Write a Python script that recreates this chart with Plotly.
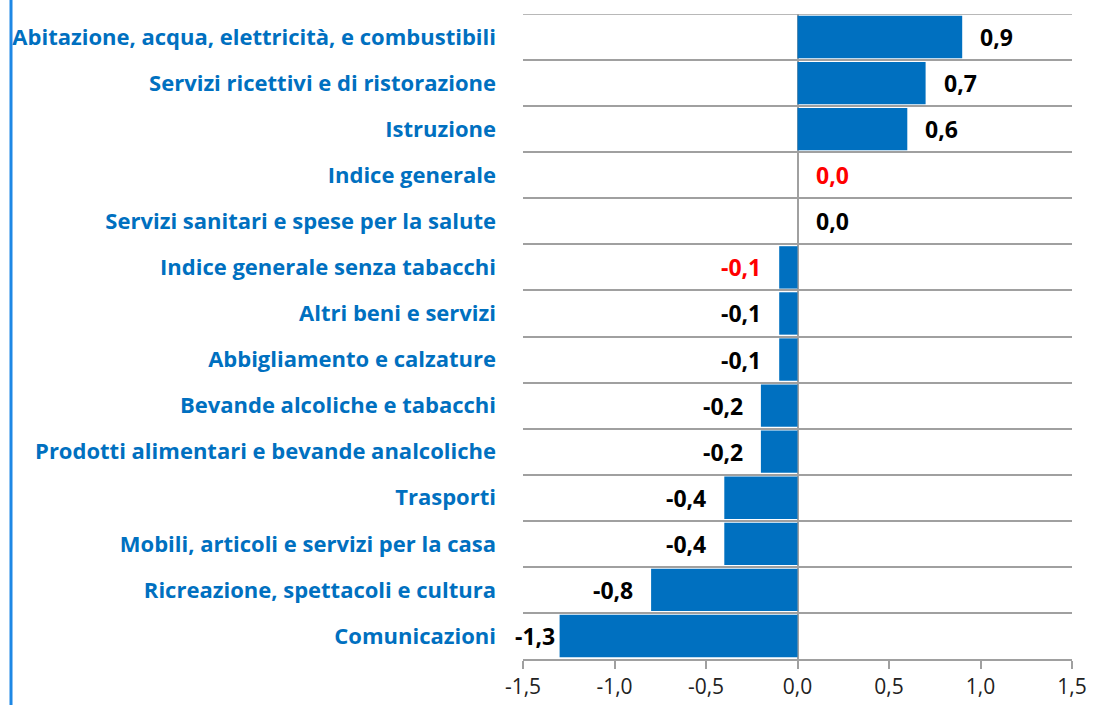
import plotly.graph_objects as go

categories = [
    "Abitazione, acqua, elettricità, e combustibili",
    "Servizi ricettivi e di ristorazione",
    "Istruzione",
    "Indice generale",
    "Servizi sanitari e spese per la salute",
    "Indice generale senza tabacchi",
    "Altri beni e servizi",
    "Abbigliamento e calzature",
    "Bevande alcoliche e tabacchi",
    "Prodotti alimentari e bevande analcoliche",
    "Trasporti",
    "Mobili, articoli e servizi per la casa",
    "Ricreazione, spettacoli e cultura",
    "Comunicazioni",
]
values = [0.9, 0.7, 0.6, 0.0, 0.0, -0.1, -0.1, -0.1, -0.2, -0.2, -0.4, -0.4, -0.8, -1.3]
highlighted = ["Indice generale", "Indice generale senza tabacchi"]
x_tickvals = [-1.5, -1.0, -0.5, 0.0, 0.5, 1.0, 1.5]
x_ticktext = ["-1,5", "-1,0", "-0,5", "0,0", "0,5", "1,0", "1,5"]

BLUE = "#0070C0"
GRID = "#A0A0A0"
FONT = "Open Sans"

n = len(categories)
ypos = [n - 1 - i for i in range(n)]
xmin, xmax = -1.5, 1.5

fig = go.Figure()
fig.add_trace(go.Bar(
    x=values, y=ypos, orientation="h",
    marker=dict(color=BLUE, line=dict(width=0)),
    width=0.92, hoverinfo="skip",
))

for c, v, y in zip(categories, values, ypos):
    txt = f"{v:.1f}".replace(".", ",")
    col = "#FF0000" if c in highlighted else "#000000"
    neg = v < 0
    # keep labels near the plot edge when the bar is very long
    shift = 16
    if neg and v - xmin < 0.3:
        shift = 3
    fig.add_annotation(
        x=v, y=y, xref="x", yref="y", text=f"<b>{txt}</b>",
        showarrow=False, xanchor="right" if neg else "left",
        xshift=-shift if neg else shift,
        font=dict(family=FONT, size=23, color=col),
    )

fig.update_layout(
    width=1093, height=705,
    margin=dict(l=523, r=21, t=14, b=46),
    paper_bgcolor="white", plot_bgcolor="white",
    showlegend=False,
    xaxis=dict(
        range=[xmin, xmax], tickvals=x_tickvals, ticktext=x_ticktext,
        showgrid=False, zeroline=True, zerolinecolor=GRID, zerolinewidth=1.5,
        showline=True, linecolor=GRID, linewidth=1.5, automargin=False,
        ticks="outside", ticklen=8, tickcolor=GRID, tickwidth=1.5,
        tickfont=dict(family=FONT, size=21, color="#222222"),
    ),
    yaxis=dict(
        range=[-0.5, n - 0.5], tickvals=ypos, automargin=False,
        ticktext=[f"<b>{c}</b>" for c in categories],
        tickfont=dict(family=FONT, size=22, color=BLUE),
        showgrid=False, zeroline=False, showline=False, ticks="",
        ticklabelstandoff=26,
        minor=dict(tick0=0.5, dtick=1, showgrid=True, gridcolor=GRID, gridwidth=1.5),
    ),
    shapes=[
        dict(type="line", xref="paper", yref="paper", x0=-0.9326, x1=-0.9326,
             y0=-0.1, y1=1.1, line=dict(color="#1E88E5", width=3)),
        dict(type="line", xref="paper", yref="y", x0=0, x1=1,
             y0=n - 0.5, y1=n - 0.5, line=dict(color=GRID, width=1.5)),
    ],
)

fig.write_html(
    "out.html",
    config={"displayModeBar": False, "responsive": False},
    post_script="document.body.style.margin='0';document.body.style.overflow='hidden';",
)
